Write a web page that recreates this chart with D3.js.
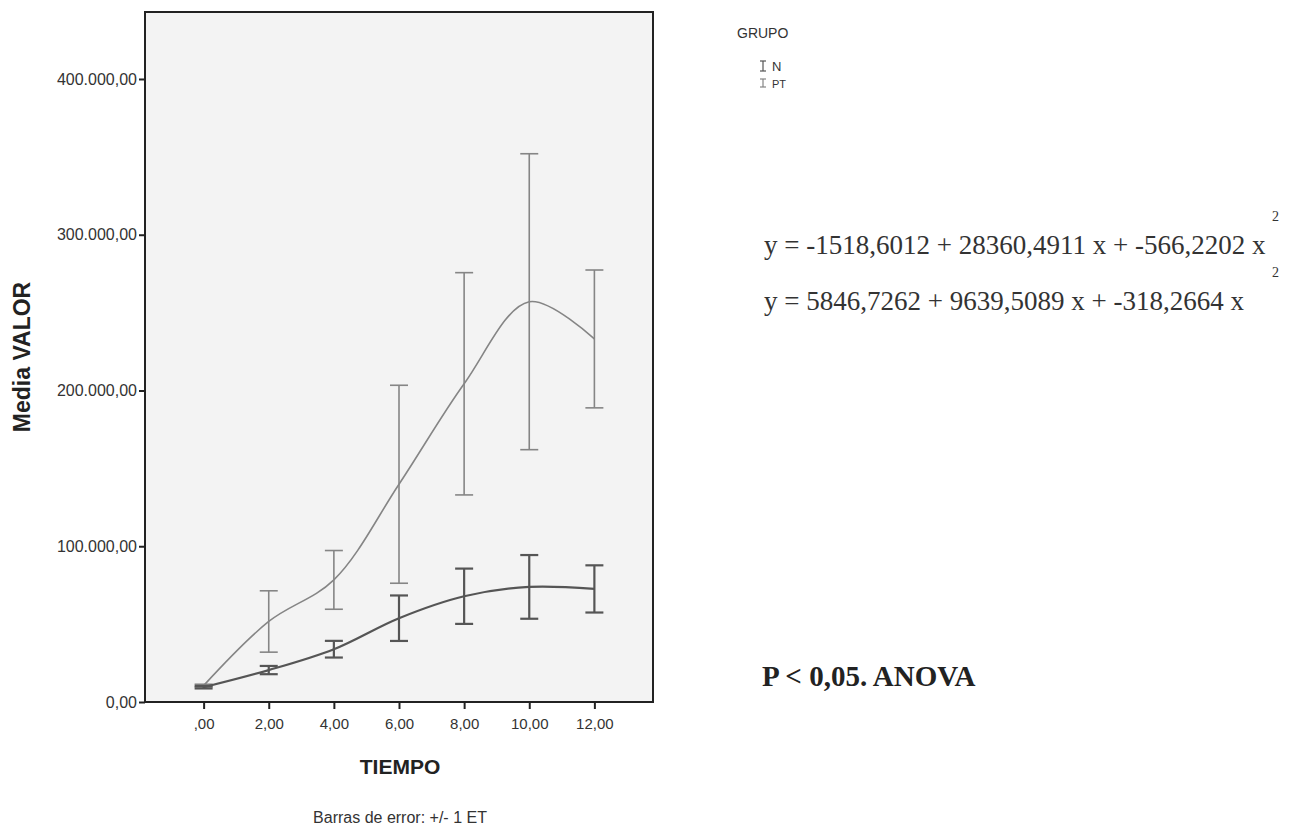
<!DOCTYPE html>
<html>
<head>
<meta charset="utf-8">
<script src="https://cdn.jsdelivr.net/npm/d3@7"></script>
<style>
  body { margin: 0; background: #fff; }
  svg { display: block; }
</style>
</head>
<body>
<div class="chart"></div>
<script>
// Data
var tiempo = [0, 2, 4, 6, 8, 10, 12];
var mediaN = [9500, 20500, 33900, 53800, 67900, 73900, 72600];
var etN = [800, 2650, 5350, 14600, 17750, 20450, 15150];
var mediaPT = [10500, 51700, 78400, 139800, 204300, 257000, 233100];
var etPT = [900, 19700, 18850, 63550, 71350, 95000, 44250];
var yTicks = [0, 100000, 200000, 300000, 400000];
var xTicks = [0, 2, 4, 6, 8, 10, 12];
var ecuaciones = [
    "y = -1518,6012 + 28360,4911 x + -566,2202 x",
    "y = 5846,7262 + 9639,5089 x + -318,2664 x"
];

var svgWidth = 1291;
var svgHeight = 827;

var margin = { top: 12, left: 145 };
var width = 508;
var height = 690;

var svg = d3.select(".chart")
            .append("svg")
            .attr("width", svgWidth)
            .attr("height", svgHeight)
            .style("font-family", "Arial, 'Liberation Sans', sans-serif");

var chartGroup = svg.append("g")
                    .attr("transform", `translate(${margin.left}, ${margin.top})`);

var xScale = d3.scaleLinear().domain([-1.8, 13.8]).range([0, width]);
var yScale = d3.scaleLinear().domain([0, 443000]).range([height, 0]);

// Spanish number format
var es = d3.formatLocale({ decimal: ",", thousands: ".", grouping: [3], currency: ["", ""] });
var fmt = es.format(",.2f");

// plot background
chartGroup.append("rect")
          .attr("width", width)
          .attr("height", height)
          .attr("fill", "#f3f3f3");

// series
var series = [
    { name: "PT", media: mediaPT, et: etPT, color: "#858585", sw: 1.6 },
    { name: "N", media: mediaN, et: etN, color: "#555", sw: 2.2 }
];

var line = d3.line()
             .x(d => xScale(d.t))
             .y(d => yScale(d.m))
             .curve(d3.curveCatmullRom);

series.forEach(function(s) {
    var pts = tiempo.map((t, i) => ({ t: t, m: s.media[i], e: s.et[i] }));

    chartGroup.append("path")
              .datum(pts)
              .attr("d", line)
              .attr("fill", "none")
              .attr("stroke", s.color)
              .attr("stroke-width", s.sw);

    var bars = chartGroup.append("g")
                         .attr("stroke", s.color)
                         .attr("stroke-width", s.sw);
    bars.selectAll(".v")
        .data(pts)
        .enter()
        .append("line")
        .attr("x1", d => xScale(d.t))
        .attr("x2", d => xScale(d.t))
        .attr("y1", d => yScale(d.m - d.e))
        .attr("y2", d => yScale(d.m + d.e));
    [-1, 1].forEach(function(sg) {
        bars.selectAll(".c" + sg)
            .data(pts)
            .enter()
            .append("line")
            .attr("x1", d => xScale(d.t) - 9)
            .attr("x2", d => xScale(d.t) + 9)
            .attr("y1", d => yScale(d.m + sg * d.e))
            .attr("y2", d => yScale(d.m + sg * d.e));
    });
});

// frame
chartGroup.append("rect")
          .attr("width", width)
          .attr("height", height)
          .attr("fill", "none")
          .attr("stroke", "#222")
          .attr("stroke-width", 2);

// axes
var leftAxis = d3.axisLeft(yScale)
                 .tickValues(yTicks)
                 .tickSize(6)
                 .tickPadding(2)
                 .tickFormat(fmt);
var bottomAxis = d3.axisBottom(xScale)
                   .tickValues(xTicks)
                   .tickSize(7)
                   .tickPadding(9)
                   .tickFormat(d => d === 0 ? ",00" : fmt(d));

var gy = chartGroup.append("g").call(leftAxis);
var gx = chartGroup.append("g")
                   .attr("transform", `translate(0, ${height})`)
                   .call(bottomAxis);
[gx, gy].forEach(function(g, i) {
    g.select(".domain").remove();
    g.selectAll(".tick line").attr("stroke", "#222").attr("stroke-width", 2);
    g.selectAll("text")
     .attr("fill", "#333")
     .style("font-size", i === 0 ? "15px" : "16px")
     .style("font-family", "Arial, 'Liberation Sans', sans-serif");
});

// axis titles
svg.append("text")
   .attr("transform", "translate(30, 357) rotate(-90)")
   .attr("text-anchor", "middle")
   .style("font-size", "23px")
   .style("font-weight", "bold")
   .attr("fill", "#222")
   .text("Media VALOR");

svg.append("text")
   .attr("x", 400)
   .attr("y", 774)
   .attr("text-anchor", "middle")
   .style("font-size", "21px")
   .style("font-weight", "bold")
   .attr("fill", "#222")
   .text("TIEMPO");

svg.append("text")
   .attr("x", 400)
   .attr("y", 823)
   .attr("text-anchor", "middle")
   .style("font-size", "16px")
   .attr("fill", "#333")
   .text("Barras de error: +/- 1 ET");

// legend
svg.append("text")
   .attr("x", 737)
   .attr("y", 38)
   .style("font-size", "14px")
   .attr("fill", "#333")
   .text("GRUPO");

var legendItems = [
    { name: "N", color: "#555", h: 10 },
    { name: "PT", color: "#858585", h: 8 }
];
legendItems.forEach(function(d, i) {
    var cy = 66 + i * 17;
    var g = svg.append("g").attr("stroke", d.color).attr("stroke-width", 1.2);
    g.append("line").attr("x1", 763).attr("x2", 763).attr("y1", cy - d.h / 2).attr("y2", cy + d.h / 2);
    g.append("line").attr("x1", 760).attr("x2", 766).attr("y1", cy - d.h / 2).attr("y2", cy - d.h / 2);
    g.append("line").attr("x1", 760).attr("x2", 766).attr("y1", cy + d.h / 2).attr("y2", cy + d.h / 2);
    svg.append("text")
       .attr("x", 772)
       .attr("y", cy + 5)
       .style("font-size", i === 0 ? "13px" : "11px")
       .attr("fill", "#333")
       .text(d.name);
});

// equations
ecuaciones.forEach(function(eq, i) {
    var by = 254 + i * 56;
    svg.append("text")
       .attr("x", 764)
       .attr("y", by)
       .style("font-family", "'Liberation Serif', 'Times New Roman', serif")
       .style("font-size", "27px")
       .attr("fill", "#333")
       .text(eq);
    svg.append("text")
       .attr("x", 1272)
       .attr("y", by - 33)
       .style("font-family", "'Liberation Serif', 'Times New Roman', serif")
       .style("font-size", "14px")
       .attr("fill", "#333")
       .text("2");
});

svg.append("text")
   .attr("x", 762)
   .attr("y", 686)
   .style("font-family", "'Liberation Serif', 'Times New Roman', serif")
   .style("font-size", "29px")
   .style("font-weight", "bold")
   .attr("fill", "#222")
   .text("P < 0,05. ANOVA");
</script>
</body>
</html>
